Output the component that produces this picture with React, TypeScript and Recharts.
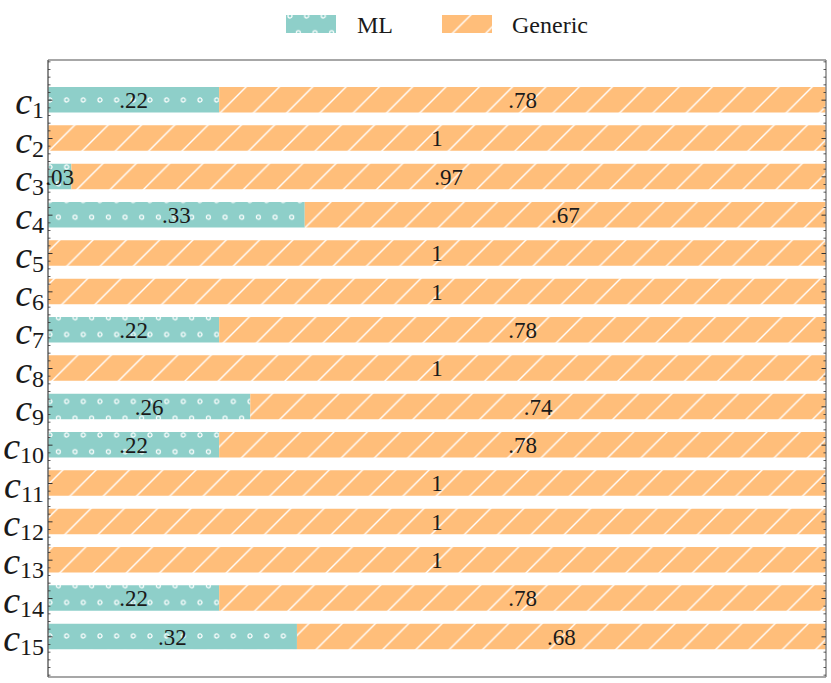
import {
  BarChart,
  Bar,
  XAxis,
  YAxis,
  Legend,
  LabelList,
} from "recharts";

// category subscripts (c_1 ... c_15)
const categories = ["1", "2", "3", "4", "5", "6", "7", "8", "9", "10", "11", "12", "13", "14", "15"];
// share of ML-specific vs generic
const mlShare = [0.22, 0, 0.03, 0.33, 0, 0, 0.22, 0, 0.26, 0.22, 0, 0, 0, 0.22, 0.32];
const genericShare = [0.78, 1, 0.97, 0.67, 1, 1, 0.78, 1, 0.74, 0.78, 1, 1, 1, 0.78, 0.68];

const data = categories.map((c, i) => ({
  name: c,
  ml: mlShare[i],
  generic: genericShare[i],
}));

const TEAL = "#8ecfc9";
const ORANGE = "#ffbe7a";
const FRAME = "#8a8a8a";
const SERIF = "'Liberation Serif', 'DejaVu Serif', serif";

const W = 831;
const H = 683;
const PLOT_LEFT = 48;
const PLOT_RIGHT = 826;
const PLOT_TOP = 60;
const PLOT_BOTTOM = 677;
const PAD = 21;
const BAND = (PLOT_BOTTOM - PLOT_TOP - 2 * PAD) / categories.length;

const fmt = (v: any) => {
  if (!v) return "";
  if (v === 1) return "1";
  return Number(v).toFixed(2).replace(/^0/, "");
};

const ring = { r: 2, fill: "none", stroke: "#fff", strokeWidth: 1.2 };

const Patterns = ({ prefix, dx = 50, dy = 100 }: { prefix: string; dx?: number; dy?: number }) => (
  <defs>
    <pattern
      id={`${prefix}dots`}
      patternUnits="userSpaceOnUse"
      width={16.67}
      height={33.5}
      patternTransform={`translate(${dx},${dy})`}
    >
      <rect width={16.67} height={33.5} fill={TEAL} />
      <circle cx={0} cy={0} {...ring} />
      <circle cx={16.67} cy={0} {...ring} />
      <circle cx={0} cy={33.5} {...ring} />
      <circle cx={16.67} cy={33.5} {...ring} />
      <circle cx={8.33} cy={16.75} {...ring} />
    </pattern>
    <pattern id={`${prefix}hatch`} patternUnits="userSpaceOnUse" width={33.3} height={33.3}>
      <rect width={33.3} height={33.3} fill={ORANGE} />
      <path
        d="M-2,2 L2,-2 M0,33.3 L33.3,0 M31.3,35.3 L35.3,31.3"
        stroke="#fff"
        strokeWidth={1.4}
      />
    </pattern>
  </defs>
);

const LegendBox = () => (
  <div style={{ display: "flex", justifyContent: "center", height: 45 }}>
    <svg width={302} height={45}>
      <Patterns prefix="lg-" dx={4} dy={16} />
      <rect x={0} y={15} width={50} height={18} fill="url(#lg-dots)" />
      <text x={71} y={32.5} fontFamily={SERIF} fontSize={24} fill="#1a1a1a">
        ML
      </text>
      <rect x={156} y={15} width={50} height={18} fill="url(#lg-hatch)" />
      <text x={226} y={32.5} fontFamily={SERIF} fontSize={24} fill="#1a1a1a">
        Generic
      </text>
    </svg>
  </div>
);

const CatTick = (props: any) => {
  const { y, payload, index } = props;
  const offsets = [-0.4, -0.2, 0.2, 0.4];
  if (index === 0) offsets.push(-0.6, -0.8, -1.0);
  if (index === categories.length - 1) offsets.push(0.6, 0.8, 1.0);
  const minors = offsets
    .map((o) => y + o * BAND)
    .filter((v) => v > PLOT_TOP + 0.5 && v < PLOT_BOTTOM - 0.5);
  return (
    <g>
      <text x={44} y={y + 14} textAnchor="end" fontFamily={SERIF} fill="#1a1a1a">
        <tspan fontStyle="italic" fontSize={38}>
          c
        </tspan>
        <tspan fontSize={24} dy={4}>
          {payload.value}
        </tspan>
      </text>
      <line x1={PLOT_LEFT} x2={PLOT_LEFT + 4.5} y1={y} y2={y} stroke="#333" strokeWidth={1} />
      <line x1={PLOT_RIGHT} x2={PLOT_RIGHT - 4.5} y1={y} y2={y} stroke="#333" strokeWidth={1} />
      {minors.map((m, i) => (
        <g key={i}>
          <line x1={PLOT_LEFT} x2={PLOT_LEFT + 2.5} y1={m} y2={m} stroke="#333" strokeWidth={0.8} />
          <line x1={PLOT_RIGHT} x2={PLOT_RIGHT - 2.5} y1={m} y2={m} stroke="#333" strokeWidth={0.8} />
        </g>
      ))}
    </g>
  );
};

export default function App() {
  return (
    <div style={{ width: W, height: H }}>
      <style>{"body{margin:0}"}</style>
      <BarChart
        width={W}
        height={H}
        data={data}
        layout="vertical"
        margin={{ top: 14, right: 4, bottom: 5, left: 0 }}
        barSize={25.5}
      >
        <Patterns prefix="" />
        <Legend
          verticalAlign="top"
          content={() => <LegendBox />}
          wrapperStyle={{ top: 0, left: PLOT_LEFT, width: PLOT_RIGHT - PLOT_LEFT, height: 45 }}
        />
        <XAxis
          type="number"
          domain={[0, 1]}
          height={1}
          tick={false}
          tickLine={false}
          axisLine={{ stroke: FRAME, strokeWidth: 1.5 }}
        />
        <XAxis
          xAxisId="top"
          orientation="top"
          type="number"
          domain={[0, 1]}
          height={1}
          tick={false}
          tickLine={false}
          axisLine={{ stroke: FRAME, strokeWidth: 1.5 }}
        />
        <YAxis
          type="category"
          dataKey="name"
          width={48}
          padding={{ top: PAD, bottom: PAD }}
          tickLine={false}
          tick={(p: any) => <CatTick {...p} />}
          axisLine={{ stroke: "#666", strokeWidth: 1.5 }}
          interval={0}
        />
        <YAxis
          yAxisId="right"
          orientation="right"
          type="category"
          dataKey="name"
          width={1}
          tick={false}
          tickLine={false}
          axisLine={{ stroke: FRAME, strokeWidth: 1.5 }}
        />
        <Bar dataKey="ml" stackId="a" fill="url(#dots)" isAnimationActive={false}>
          <LabelList
            dataKey="ml"
            position="center"
            formatter={fmt}
            fill="#1a1a1a"
            fontSize={23}
            fontFamily={SERIF}
          />
        </Bar>
        <Bar dataKey="generic" stackId="a" fill="url(#hatch)" isAnimationActive={false}>
          <LabelList
            dataKey="generic"
            position="center"
            formatter={fmt}
            fill="#1a1a1a"
            fontSize={23}
            fontFamily={SERIF}
          />
        </Bar>
      </BarChart>
    </div>
  );
}
